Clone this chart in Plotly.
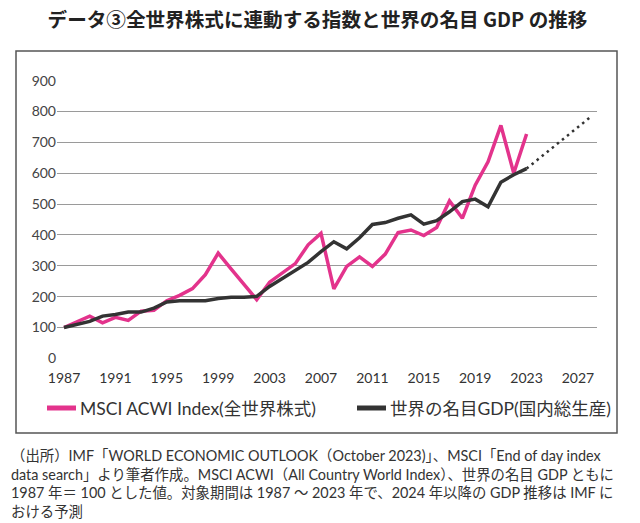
import plotly.graph_objects as go

years = list(range(1987, 2024))
msci = [100, 120, 137, 115, 133, 123, 153, 156, 187, 204, 226, 271, 341, 290, 241, 190,
        247, 278, 307, 368, 405, 225, 298, 329, 298, 338, 408, 416, 398, 424, 510, 454,
        561, 637, 755, 600, 727]
gdp = [100, 110, 120, 137, 142, 150, 150, 163, 183, 187, 187, 187, 194, 198, 198, 201,
       233, 260, 285, 311, 346, 378, 355, 391, 434, 440, 454, 465, 435, 446, 475, 508,
       516, 491, 571, 595, 615]
proj_years = [2023, 2024, 2025, 2026, 2027, 2028]
gdp_proj = [615, 648, 682, 715, 748, 783]

x_ticks = list(range(1987, 2028, 4))
y_ticks = list(range(0, 901, 100))

title_text = "データ③全世界株式に連動する指数と世界の名目 GDP の推移"
name_msci = "MSCI ACWI Index(全世界株式)"
name_gdp = "世界の名目GDP(国内総生産)"
note_lines = [
    "（出所）IMF「WORLD ECONOMIC OUTLOOK（October 2023)」、MSCI「End of day index",
    "data search」より筆者作成。MSCI ACWI（All Country World Index）、世界の名目 GDP ともに",
    "1987 年＝ 100 とした値。対象期間は 1987 ～ 2023 年で、2024 年以降の GDP 推移は IMF に",
    "おける予測",
]

PINK = "#e3338c"
DARK = "#333333"
FONT = "Lato, 'Noto Sans CJK JP', sans-serif"

W, H = 640, 523
L, R, T, B = 57, 43, 80, 164
pw, ph = W - L - R, H - T - B


def px(x):
    return (x - L) / pw


def py(y):
    return (H - B - y) / ph


fig = go.Figure()
fig.add_trace(go.Scatter(x=years, y=msci, mode="lines", name=name_msci,
                         line=dict(color=PINK, width=3.5)))
fig.add_trace(go.Scatter(x=years, y=gdp, mode="lines", name=name_gdp,
                         line=dict(color=DARK, width=3.5)))
fig.add_trace(go.Scatter(x=proj_years, y=gdp_proj, mode="lines", showlegend=False,
                         line=dict(color=DARK, width=2.5, dash="2.5px,4px")))

fig.update_layout(
    width=W, height=H,
    margin=dict(l=L, r=R, t=T, b=B, autoexpand=False),
    paper_bgcolor="white", plot_bgcolor="white",
    font=dict(family=FONT, color="#333333"),
    title=dict(text=title_text, x=317.5 / W, xanchor="center",
               y=1 - 20 / H, yanchor="middle",
               font=dict(size=19.6, color="#222222", family="'Noto Sans CJK JP', sans-serif",
                         weight=700)),
    xaxis=dict(range=[1986.455, 2028.48], tickvals=x_ticks, showgrid=False,
               zeroline=False, showline=False, ticks="", ticklabelstandoff=9,
               tickfont=dict(size=14, color="#333333")),
    yaxis=dict(range=[-2, 902], tickvals=y_ticks, showgrid=True, gridcolor="#9a9a9a",
               gridwidth=1, zeroline=False, showline=False, ticks="",
               tickfont=dict(size=14, color="#444444")),
    showlegend=False,
)

# frame
fig.add_shape(type="rect", xref="paper", yref="paper",
              x0=px(16), x1=px(617), y0=py(433), y1=py(51),
              line=dict(color="#555555", width=1.5), layer="below")

# legend (drawn as key lines + labels)
legend_items = [(name_msci, PINK, 45), (name_gdp, DARK, 355)]
for label, color, x0 in legend_items:
    fig.add_shape(type="line", xref="paper", yref="paper",
                  x0=px(x0 + 2), x1=px(x0 + 31), y0=py(408), y1=py(408),
                  line=dict(color=color, width=5))
    fig.add_annotation(text=label, xref="paper", yref="paper",
                       x=px(x0 + 33), y=py(408), xanchor="left", yanchor="middle",
                       showarrow=False, font=dict(size=17.5, color="#333333"))

# source note
fig.add_annotation(text="<br>".join(note_lines), xref="paper", yref="paper",
                   x=px(9), y=py(445), xanchor="left", yanchor="top", align="left",
                   showarrow=False,
                   font=dict(size=14.4, color="#333333", family=FONT))

fig.write_html("out.html")
